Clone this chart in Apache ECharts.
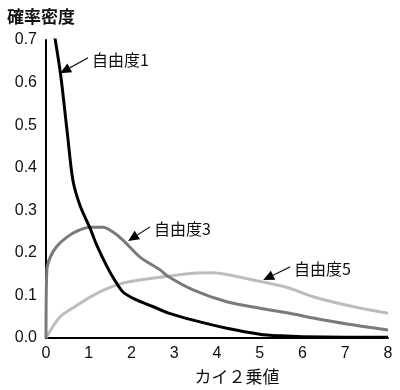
<!DOCTYPE html>
<html><head><meta charset="utf-8">
<script src="https://cdn.jsdelivr.net/npm/echarts@6/dist/echarts.min.js"></script>
<style>html,body{margin:0;padding:0;background:#fff}#c{width:400px;height:390px}</style>
</head><body><div id="c"></div>
<script>
const df1X = [0.2, 0.34, 0.5, 0.63, 0.8, 1.03, 1.2, 1.43, 1.6, 1.8, 2.1, 2.5, 2.85, 3.44, 4.23, 5.0, 5.5, 6.0, 7.0, 8.0];
const df1Y = [0.71, 0.62, 0.48, 0.37, 0.31, 0.258, 0.215, 0.167, 0.137, 0.108, 0.09, 0.074, 0.059, 0.042, 0.023, 0.009, 0.005, 0.003, 0.002, 0.002];
const df3X = [0, 0.02, 0.1, 0.25, 0.49, 0.75, 1.03, 1.33, 1.55, 1.8, 2.2, 2.67, 2.85, 3.44, 4.23, 5.0, 5.7, 6.25, 7.04, 8.0];
const df3Y = [0, 0.16, 0.19, 0.215, 0.237, 0.252, 0.26, 0.26, 0.25, 0.23, 0.19, 0.16, 0.145, 0.113, 0.085, 0.07, 0.058, 0.047, 0.033, 0.019];
const df5X = [0, 0.33, 0.7, 1.03, 1.4, 1.8, 2.3, 2.85, 3.44, 3.9, 4.23, 5.0, 5.7, 6.25, 7.04, 8.0];
const df5Y = [0, 0.05, 0.075, 0.096, 0.115, 0.129, 0.138, 0.145, 0.152, 0.153, 0.149, 0.133, 0.117, 0.097, 0.077, 0.058];
const seriesNames = ['自由度1', '自由度3', '自由度5'];
const xTicks = [0, 1, 2, 3, 4, 5, 6, 7, 8];
const yTicks = [0, 0.1, 0.2, 0.3, 0.4, 0.5, 0.6, 0.7];
// annotation anchors in data coords: [tipX, tipY, tailX, tailY]
const annos = [[0.33, 0.622, 0.98, 0.658], [1.92, 0.228, 2.43, 0.261], [5.08, 0.136, 5.71, 0.167]];

const zip = (a, b) => a.map((v, i) => [v, b[i]]);
const font = '"Liberation Sans", Arial, "Noto Sans CJK JP", sans-serif';
const cjk = '"Noto Sans CJK JP", sans-serif';
const chart = echarts.init(document.getElementById('c'), null, {renderer: 'canvas'});
const mk = (name, data, color, z) => ({
  name, type: 'line', data, smooth: 0.3, showSymbol: false, z,
  lineStyle: {color, width: 3, join: 'round'}, animation: false
});
chart.setOption({
  animation: false,
  grid: {left: 46, right: 12, top: 40, bottom: 52},
  title: {text: '確率密度', left: 2, top: 3,
    textStyle: {fontSize: 17, fontWeight: 'bold', color: '#111', fontFamily: cjk}},
  xAxis: {type: 'value', min: 0, max: 8, interval: 1,
    name: 'カイ２乗値', nameLocation: 'middle', nameGap: 30,
    nameTextStyle: {fontSize: 17, color: '#111', fontFamily: cjk, padding: [0, 0, 0, 40]},
    axisLine: {lineStyle: {color: '#000', width: 2}}, axisTick: {show: false}, splitLine: {show: false},
    axisLabel: {fontSize: 16, color: '#111', fontFamily: font, margin: 8, formatter: v => xTicks.includes(v) ? String(v) : ''}},
  yAxis: {type: 'value', min: 0, max: 0.7, interval: 0.1,
    axisLine: {show: true, lineStyle: {color: '#000', width: 2}}, axisTick: {show: false}, splitLine: {show: false},
    axisLabel: {fontSize: 16, color: '#111', fontFamily: font, margin: 9,
      formatter: v => { const t = yTicks.find(k => Math.abs(k - v) < 1e-9); return t === undefined ? '' : t.toFixed(1); }}},
  series: [
    mk(seriesNames[2], zip(df5X, df5Y), '#bdbdbd', 2),
    mk(seriesNames[1], zip(df3X, df3Y), '#7a7a7a', 3),
    mk(seriesNames[0], zip(df1X, df1Y), '#000000', 4)
  ]
});
const g = [];
annos.forEach((a, i) => {
  const tip = chart.convertToPixel({gridIndex: 0}, [a[0], a[1]]);
  const tail = chart.convertToPixel({gridIndex: 0}, [a[2], a[3]]);
  const dx = tip[0] - tail[0], dy = tip[1] - tail[1];
  const L = Math.hypot(dx, dy), ux = dx / L, uy = dy / L;
  const hl = 11, hw = 5;
  const bx = tip[0] - ux * hl, by = tip[1] - uy * hl;
  g.push({type: 'line', shape: {x1: tail[0], y1: tail[1], x2: bx, y2: by}, style: {stroke: '#222', lineWidth: 1.2}, z: 10});
  g.push({type: 'polygon', shape: {points: [tip, [bx - uy * hw, by + ux * hw], [bx + uy * hw, by - ux * hw]]}, style: {fill: '#000'}, z: 10});
  g.push({type: 'text', x: tail[0] + 4, y: tail[1] + 2, style: {text: seriesNames[i], fill: '#111', fontSize: 16,
    fontFamily: cjk, verticalAlign: 'middle', align: 'left'}, z: 10});
});
chart.setOption({graphic: g});
</script></body></html>
